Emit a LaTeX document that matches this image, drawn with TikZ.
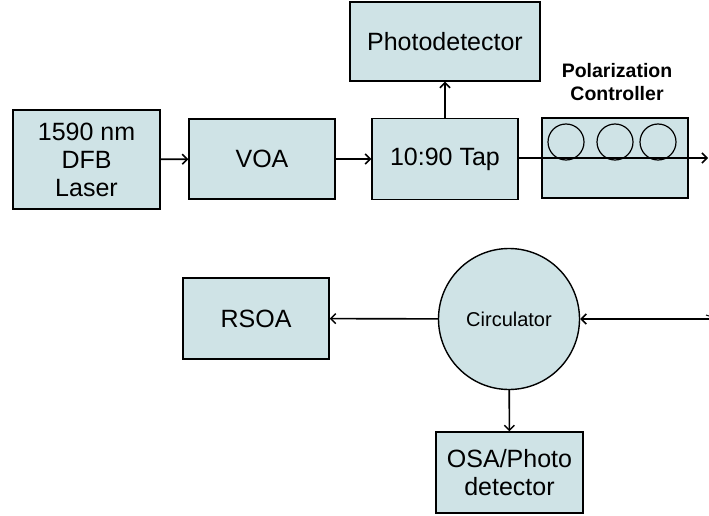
\documentclass[tikz,border=0pt]{standalone}
\usepackage{fontspec}
\setmainfont{Liberation Sans}
\usetikzlibrary{arrows.meta}
\definecolor{boxfill}{RGB}{207,227,230}
\begin{document}
\begin{tikzpicture}[x=1pt,y=-1pt,
  blk/.style={draw=black,line width=1.4pt,fill=boxfill,inner sep=0pt,align=center,font=\fontsize{25}{28}\selectfont},
  conn/.style={line width=1.6pt,-{Straight Barb[length=5pt,width=10pt,line width=1.5pt]}},
  ring/.style={draw=black,line width=1.2pt,circle,minimum size=36pt,inner sep=0pt}]
\useasboundingbox (0,0) rectangle (709,516);
\node[blk,minimum width=147pt,minimum height=99pt] (laser) at (86.5,159.5) {1590 nm\\DFB\\Laser};
\node[blk,minimum width=146pt,minimum height=80pt] (voa) at (262,159) {VOA};
\node[blk,minimum width=146pt,minimum height=81pt] (tap) at (445,159) {10:90 Tap};
\node[blk,minimum width=190pt,minimum height=79pt] (pd) at (445,41.5) {Photodetector};
\node[blk,minimum width=146pt,minimum height=80pt] (pc) at (615,158) {};
\node[font=\bfseries\fontsize{19.5}{23}\selectfont,align=center] (pclabel) at (617,82) {Polarization\\Controller};
\node[ring] (c1) at (566,142) {};
\node[ring] (c2) at (615,142) {};
\node[ring] (c3) at (658,142) {};
\coordinate (pcout) at (708,158);
\node[circle,draw=black,line width=1.4pt,fill=boxfill,minimum size=141pt,inner sep=0pt,font=\fontsize{20}{22}\selectfont] (circ) at (509,319) {Circulator};
\node[blk,minimum width=146pt,minimum height=81pt] (rsoa) at (256,318.5) {RSOA};
\node[blk,minimum width=147pt,minimum height=81pt] (osa) at (509.5,472.5) {OSA/Photo\\detector};
\coordinate (inR) at (709,319);
\coordinate (tickA) at (706,315);
\draw[conn] (laser) -- (voa);
\draw[conn] (voa) -- (tap);
\draw[conn] (tap) -- (pd);
\draw[conn] (tap.east |- pcout) -- (pcout);
\draw[conn] (inR) -- (circ);
\draw[conn] (circ) -- (rsoa);
\draw[conn] (circ) -- (osa);
\draw[line width=1pt] (tickA) -- ++(3,1);
\end{tikzpicture}
\end{document}
